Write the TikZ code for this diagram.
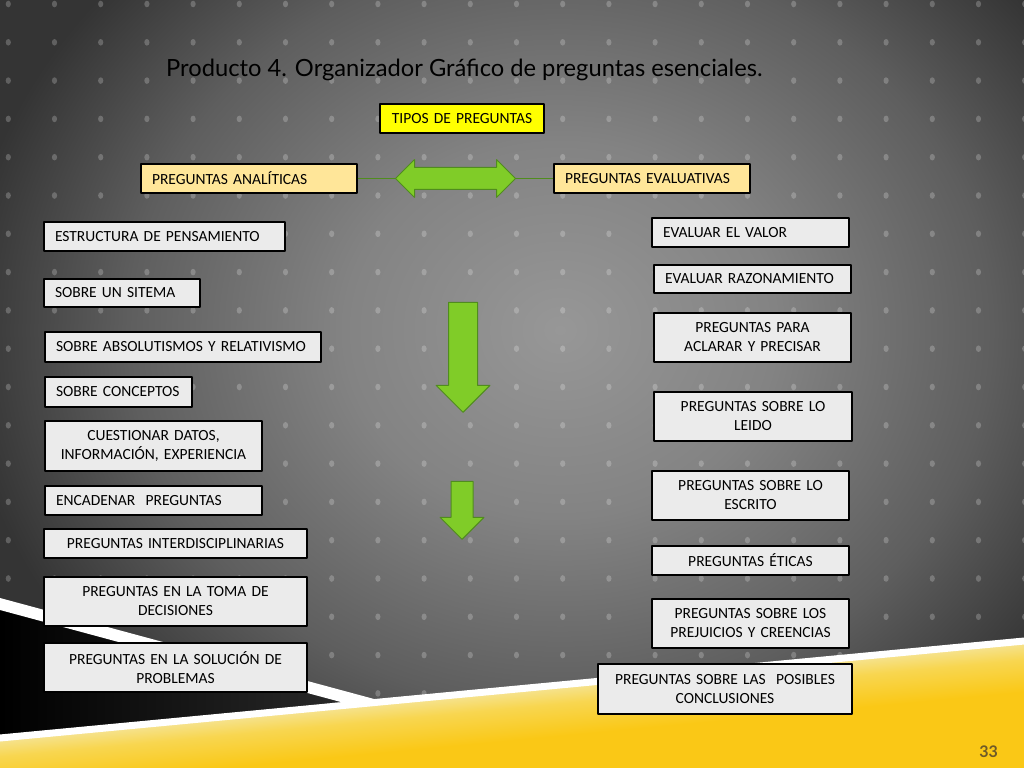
\documentclass[tikz,border=0pt]{standalone}
\usepackage{fontspec}
\usepackage{tikz}
\usetikzlibrary{shapes.arrows}

\newfontfamily\cajafamilia{Carlito}
\newfontfamily\titulofamilia{Lato}
\newcommand\fuentecaja{\cajafamilia\fontsize{15.5bp}{19bp}\selectfont}
\newcommand\fuentetitulo{\titulofamilia\fontsize{23.7bp}{28bp}\selectfont}
\newcommand\fuentenumero{\titulofamilia\bfseries\fontsize{16bp}{19bp}\selectfont}

\definecolor{fondocentro}{RGB}{151,151,151}
\definecolor{fondomedio}{RGB}{131,131,131}
\definecolor{fondooscuro}{RGB}{94,94,94}
\definecolor{fondoborde}{RGB}{52,52,52}
\definecolor{negrofranja}{RGB}{42,42,42}
\definecolor{amarillofuerte}{RGB}{250,200,22}
\definecolor{amarillomedio}{RGB}{248,214,80}
\definecolor{amarillopalido}{RGB}{245,228,150}
\definecolor{cajagris}{RGB}{235,235,235}
\definecolor{cajaamarilla}{RGB}{255,255,0}
\definecolor{cajacrema}{RGB}{255,230,153}
\definecolor{verde}{RGB}{128,204,40}
\definecolor{verdeborde}{RGB}{80,140,30}
\definecolor{numerocolor}{RGB}{110,90,40}

\pgfdeclareradialshading{fondoluz}{\pgfpointorigin}{color(0bp)=(fondocentro); color(9bp)=(fondomedio); color(18bp)=(fondooscuro); color(25bp)=(fondoborde); color(50bp)=(fondoborde)}
\pgfdeclareverticalshading{bandaamarilla}{100bp}{color(0bp)=(amarillofuerte); color(25bp)=(amarillofuerte); color(64bp)=(amarillofuerte); color(71bp)=(amarillomedio); color(75bp)=(amarillopalido); color(100bp)=(amarillopalido)}

\begin{document}
\begin{tikzpicture}[>=latex,line join=bevel,
  caja/.style={draw=black,line width=1.4bp,fill=cajagris,font=\fuentecaja,inner xsep=11bp,inner ysep=0bp,minimum height=29bp},
  izq/.style={align=left},
  cen/.style={align=center,inner xsep=4bp},
  lineaverde/.style={draw=verdeborde,line width=1bp},
  flechaverde/.style={fill=verde,draw=verdeborde,line width=1bp,inner xsep=0bp}]
%% fondo
\useasboundingbox (0bp,0bp) rectangle (1024bp,768bp);
\clip (0bp,0bp) rectangle (1024bp,768bp);
\fill[fondoborde] (0bp,0bp) rectangle (1024bp,768bp);
\shade[shading=fondoluz] (560bp,438bp) ellipse (600bp and 520bp);
\foreach \i in {0,...,22}
  \foreach \j in {0,...,19}
    \fill[white,opacity=0.22] ({(8.3+46.2*\i)*1bp},{(764-38.3*\j)*1bp}) ellipse (2.6bp and 3.3bp);
%% franjas de abajo
\shade[left color=black,right color=negrofranja] (0bp,164bp) -- (352bp,68bp) -- (0bp,20bp) -- cycle;
\fill[white] (0bp,170bp) -- (380bp,67.4bp) -- (380bp,55.4bp) -- (0bp,158bp) -- cycle;
\begin{scope}[transform canvas={rotate around={5.41:(0bp,30bp)}}]
  \shade[shading=bandaamarilla] (-60bp,-200bp) rectangle (1120bp,30bp);
  \draw[white,line width=7bp] (-60bp,30bp) -- (1120bp,30bp);
\end{scope}
%%
\node (titulo) at (166bp,691bp) [anchor=base west,inner sep=0bp,font=\fuentetitulo] {Producto 4. Organizador Gráfico de preguntas esenciales.};
\node (pagina) at (998bp,11bp) [anchor=base east,inner sep=0bp,font=\fuentenumero,text=numerocolor] {33};
%
\node (tipos) at (462bp,649.5bp) [caja,cen,fill=cajaamarilla,text width=156bp] {TIPOS DE PREGUNTAS};
  \node (analiticas) at (249bp,589.5bp) [caja,izq,fill=cajacrema,text width=194bp] {PREGUNTAS ANALÍTICAS};
  \node (evaluativas) at (652bp,589.5bp) [caja,izq,fill=cajacrema,text width=174bp] {PREGUNTAS EVALUATIVAS};
  \draw [lineaverde] (analiticas) -- (evaluativas);
  \node (dobleflecha) at (455.5bp,589.5bp) [double arrow,flechaverde,minimum height=120bp,inner ysep=10.5bp,double arrow head extend=8bp] {};
%
\node (estructura) at (164.5bp,531.5bp) [caja,izq,text width=219bp] {ESTRUCTURA DE PENSAMIENTO};
  \node (sitema) at (122bp,475bp) [caja,izq,text width=134bp,minimum height=28bp] {SOBRE UN SITEMA};
  \node (absolutismos) at (183bp,421bp) [caja,izq,text width=254bp,minimum height=30bp] {SOBRE ABSOLUTISMOS Y RELATIVISMO};
  \node (conceptos) at (118.5bp,376bp) [caja,izq,text width=125bp,minimum height=30bp] {SOBRE CONCEPTOS};
  \node (cuestionar) at (153.5bp,322bp) [caja,cen,text width=209bp,minimum height=50bp] {CUESTIONAR DATOS,\\ INFORMACIÓN, EXPERIENCIA};
  \node (encadenar) at (153.5bp,267.5bp) [caja,izq,text width=195bp] {ENCADENAR~ PREGUNTAS};
  \node (interdisciplinarias) at (175.5bp,224.5bp) [caja,cen,text width=255bp] {PREGUNTAS INTERDISCIPLINARIAS};
  \node (toma) at (175.5bp,166.5bp) [caja,cen,text width=255bp,minimum height=49bp] {PREGUNTAS EN LA TOMA DE\\ DECISIONES};
  \node (solucion) at (175.5bp,100.5bp) [caja,cen,text width=255bp,minimum height=49bp] {PREGUNTAS EN LA SOLUCIÓN DE\\ PROBLEMAS};
%
\node (valor) at (750.5bp,535.5bp) [caja,izq,text width=175bp] {EVALUAR EL VALOR};
  \node (razonamiento) at (752.5bp,489bp) [caja,izq,text width=175bp,minimum height=28bp] {EVALUAR RAZONAMIENTO};
  \node (aclarar) at (752.5bp,430.5bp) [caja,cen,text width=189bp,minimum height=49bp] {PREGUNTAS PARA\\ ACLARAR Y PRECISAR};
  \node (leido) at (753bp,351.5bp) [caja,cen,text width=190bp,minimum height=49bp] {PREGUNTAS SOBRE LO\\ LEIDO};
  \node (escrito) at (750.5bp,272.5bp) [caja,cen,text width=189bp,minimum height=49bp] {PREGUNTAS SOBRE LO\\ ESCRITO};
  \node (eticas) at (750.5bp,207.5bp) [caja,cen,text width=189bp] {PREGUNTAS ÉTICAS};
  \node (prejuicios) at (750.5bp,144.5bp) [caja,cen,text width=189bp,minimum height=49bp] {PREGUNTAS SOBRE LOS\\ PREJUICIOS Y CREENCIAS};
  \node (conclusiones) at (725bp,79bp) [caja,cen,text width=246bp,minimum height=50bp] {PREGUNTAS SOBRE LAS~ POSIBLES\\ CONCLUSIONES};
%
\node (flechagrande) at (463bp,355bp) [single arrow,flechaverde,rotate=-90,anchor=tip,minimum height=110bp,inner ysep=14bp,single arrow head extend=12.5bp] {};
  \node (flechachica) at (462bp,228bp) [single arrow,flechaverde,rotate=-90,anchor=tip,minimum height=58bp,inner ysep=10.5bp,single arrow head extend=11bp] {};
%
\end{tikzpicture}
\end{document}
